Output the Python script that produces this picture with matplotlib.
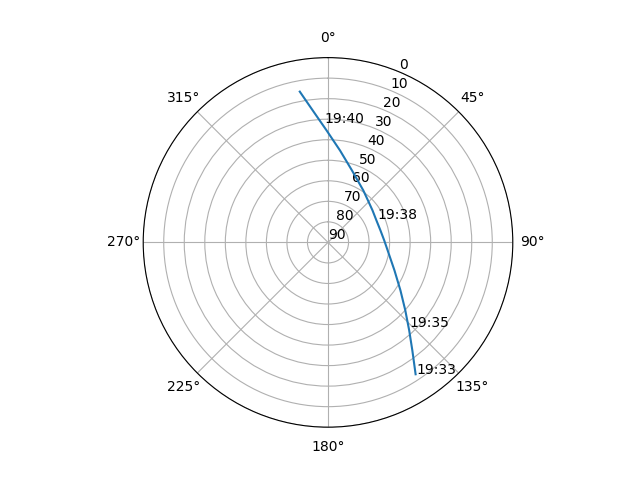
import numpy as np
from matplotlib import pyplot as plt

# satellite pass (azimuth deg, elevation deg)
azimuth = [146.4, 142.0, 137.3, 131.3, 123.5, 112.8, 97.6, 88.0, 77.1,
           65.6, 54.3, 43.7, 34.2, 18.5, 7.5, -0.7, -6.6, -10.6]
elevation = [12.9, 23.3, 31.7, 39.9, 47.7, 54.9, 60.7, 62.6, 63.8,
             64.1, 63.3, 61.8, 59.4, 53.1, 44.9, 35.5, 25.3, 15.3]

label_times = ["19:33", "19:35", "19:38", "19:40"]
label_az = [146.0, 136.0, 64.4, -1.6]
label_el = [12.8, 32.7, 63.3, 32.0]

fig = plt.figure(figsize=(6.4, 4.8), dpi=100)
ax = fig.add_subplot(projection='polar')
ax.set_theta_zero_location('N')
ax.set_theta_direction(-1)

ax.plot(np.radians(azimuth), elevation)
for t, a, e in zip(label_times, label_az, label_el):
    ax.text(np.radians(a), e, t)

ax.set_rlim(90, 0)
ax.set_yticks(range(0, 91, 10))

plt.savefig('out.png')
